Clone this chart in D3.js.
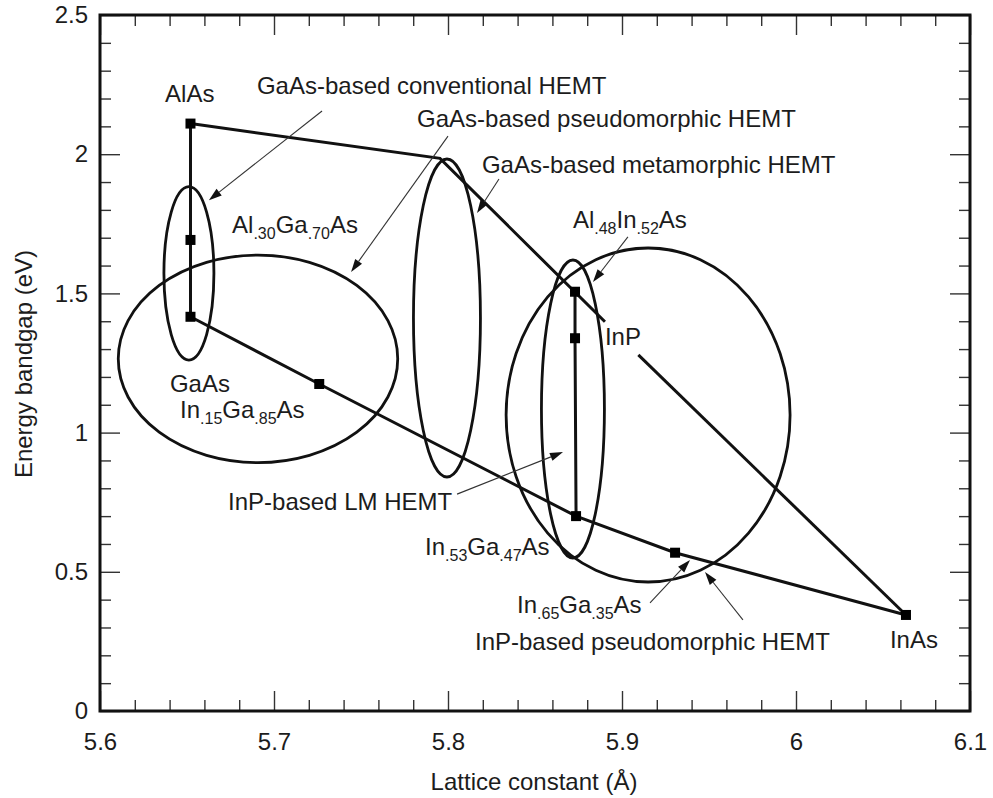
<!DOCTYPE html>
<html><head><meta charset="utf-8">
<script src="https://cdn.jsdelivr.net/npm/d3@7/dist/d3.min.js"></script>
<style>
body{margin:0;background:#fff}
svg{display:block}
text{font-family:"Liberation Sans",Arial,Helvetica,sans-serif;fill:#1c1c1c}
</style>
</head><body>
<svg id="chart" width="993" height="798"></svg>
<script>
// ---------- data ----------
const xTicks = [5.6, 5.7, 5.8, 5.9, 6.0, 6.1];
const xTickLabels = ["5.6", "5.7", "5.8", "5.9", "6", "6.1"];
const yTicks = [0, 0.5, 1, 1.5, 2, 2.5];
const yTickLabels = ["0", "0.5", "1", "1.5", "2", "2.5"];

const compounds    = ["AlAs", "Al.30Ga.70As", "GaAs", "In.15Ga.85As", "In.53Ga.47As", "In.65Ga.35As", "InAs", "Al.48In.52As", "InP"];
const latticeConst = [5.652, 5.652, 5.652, 5.726, 5.8736, 5.9305, 6.0632, 5.873, 5.873];
const bandgap      = [2.110, 1.692, 1.416, 1.1746, 0.700, 0.5686, 0.345, 1.506, 1.339];

const alGaAsLine = ["AlAs", "Al.30Ga.70As", "GaAs"];
const inGaAsLine = ["GaAs", "In.15Ga.85As", "In.53Ga.47As", "In.65Ga.35As", "InAs"];
const latticeMatchedLine = ["Al.48In.52As", "InP", "In.53Ga.47As"];

// AlAs-InAs curve (broken where the "InP" label sits)
const alInAsUpperX = [5.652, 5.7954, 5.8902];
const alInAsUpperY = [2.110, 1.985, 1.398];
const alInAsLowerX = [5.9094, 6.0632];
const alInAsLowerY = [1.279, 0.345];

// HEMT regions (ellipses): centre and half-axes in data units
const regionNames = ["GaAs conventional", "GaAs pseudomorphic", "GaAs metamorphic", "InP LM", "InP pseudomorphic"];
const regionCx = [5.6511, 5.6908, 5.7994, 5.8718, 5.915];
const regionCy = [1.572, 1.265, 1.4116, 1.0848, 1.0632];
const regionRx = [0.01437, 0.0803, 0.01925, 0.0181, 0.0816];
const regionRy = [0.3114, 0.3728, 0.5711, 0.5352, 0.5999];

// text labels (anchor in data units, left/baseline); _{..} = subscript
const labelTexts = ["AlAs", "GaAs-based conventional HEMT", "Al_{.30}Ga_{.70}As", "GaAs-based pseudomorphic HEMT",
  "GaAs-based metamorphic HEMT", "Al_{.48}In_{.52}As", "InP", "GaAs", "In_{.15}Ga_{.85}As", "InP-based LM HEMT",
  "In_{.53}Ga_{.47}As", "In_{.65}Ga_{.35}As", "InP-based pseudomorphic HEMT", "InAs"];
const labelX = [5.6374, 5.6902, 5.6759, 5.7822, 5.8195, 5.8718, 5.8902, 5.6402, 5.646, 5.6736, 5.7868, 5.8397, 5.8155, 6.054];
const labelY = [2.1875, 2.216, 1.717, 2.098, 1.932, 1.735, 1.315, 1.146, 1.052, 0.722, 0.560, 0.352, 0.219, 0.226];

// annotation arrows (from -> to, data units)
const arrowFromX = [5.7276, 5.8, 5.8293, 5.9034, 5.8052, 5.9161, 5.9695];
const arrowFromY = [2.155, 2.065, 1.911, 1.703, 0.779, 0.388, 0.327];
const arrowToX   = [5.6626, 5.7443, 5.8167, 5.8833, 5.8661, 5.9391, 5.9477];
const arrowToY   = [1.835, 1.577, 1.789, 1.541, 0.930, 0.542, 0.499];

// ---------- chart ----------
const svg = d3.select("#chart");
const L = 100, R = 970, T = 15, B = 711;
const x = d3.scaleLinear().domain([5.6, 6.1]).range([L, R]);
const y = d3.scaleLinear().domain([0, 2.5]).range([B, T]);

const tickColor = "#333";
const major = 20, minor = 11;
const xMinor = d3.range(5.6, 6.1001, 0.02).filter(v => Math.abs(v * 10 - Math.round(v * 10)) > 1e-6);
const yMinor = d3.range(0, 2.5001, 0.1).filter(v => Math.abs(v * 2 - Math.round(v * 2)) > 1e-6);

function styleAxis(g) {
  g.select(".domain").remove();
  g.selectAll(".tick line").attr("stroke", tickColor).attr("stroke-width", 1.4);
}
// bottom & top
svg.append("g").attr("transform", `translate(0,${B})`)
  .call(d3.axisBottom(x).tickValues(xTicks).tickSize(-major).tickFormat((d, i) => xTickLabels[i]).tickPadding(0))
  .call(styleAxis)
  .call(g => g.selectAll(".tick text").attr("y", 39).attr("dy", 0).attr("font-size", 24).attr("fill", "#1c1c1c")
    .attr("font-family", '"Liberation Sans",Arial,sans-serif'));
svg.append("g").attr("transform", `translate(0,${B})`)
  .call(d3.axisBottom(x).tickValues(xMinor).tickSize(-minor).tickFormat("")).call(styleAxis);
svg.append("g").attr("transform", `translate(0,${T})`)
  .call(d3.axisTop(x).tickValues(xTicks).tickSize(-major).tickFormat("")).call(styleAxis);
svg.append("g").attr("transform", `translate(0,${T})`)
  .call(d3.axisTop(x).tickValues(xMinor).tickSize(-minor).tickFormat("")).call(styleAxis);
// left & right
svg.append("g").attr("transform", `translate(${L},0)`)
  .call(d3.axisLeft(y).tickValues(yTicks).tickSize(-major).tickFormat((d, i) => yTickLabels[i]))
  .call(styleAxis)
  .call(g => g.selectAll(".tick text").attr("x", -12).attr("font-size", 24).attr("fill", "#1c1c1c")
    .attr("font-family", '"Liberation Sans",Arial,sans-serif'));
svg.append("g").attr("transform", `translate(${L},0)`)
  .call(d3.axisLeft(y).tickValues(yMinor).tickSize(-minor).tickFormat("")).call(styleAxis);
svg.append("g").attr("transform", `translate(${R},0)`)
  .call(d3.axisRight(y).tickValues(yTicks).tickSize(-major).tickFormat("")).call(styleAxis);
svg.append("g").attr("transform", `translate(${R},0)`)
  .call(d3.axisRight(y).tickValues(yMinor).tickSize(-minor).tickFormat("")).call(styleAxis);

// frame
svg.append("rect").attr("x", L).attr("y", T).attr("width", R - L).attr("height", B - T)
  .attr("fill", "none").attr("stroke", "#111").attr("stroke-width", 3);

// axis titles
svg.append("text").attr("x", (L + R) / 2 - 1).attr("y", 790).attr("text-anchor", "middle")
  .attr("font-size", 24).text("Lattice constant (Å)");
svg.append("text").attr("transform", "translate(32,364) rotate(-90)").attr("text-anchor", "middle")
  .attr("font-size", 24).text("Energy bandgap (eV)");

// ellipses
const ell = svg.append("g").attr("fill", "none").attr("stroke", "#111").attr("stroke-width", 2.8);
regionNames.forEach((n, i) => {
  ell.append("ellipse")
    .attr("cx", x(regionCx[i])).attr("cy", y(regionCy[i]))
    .attr("rx", x(regionCx[i] + regionRx[i]) - x(regionCx[i]))
    .attr("ry", y(regionCy[i]) - y(regionCy[i] + regionRy[i]));
});

// data lines
const idx = name => compounds.indexOf(name);
const line = d3.line().x(d => x(d[0])).y(d => y(d[1]));
const lines = svg.append("g").attr("fill", "none").attr("stroke", "#111").attr("stroke-width", 3);
[alGaAsLine, inGaAsLine, latticeMatchedLine].forEach(list => {
  lines.append("path").attr("d", line(list.map(n => [latticeConst[idx(n)], bandgap[idx(n)]])));
});
lines.append("path").attr("d", line(alInAsUpperX.map((v, i) => [v, alInAsUpperY[i]])));
lines.append("path").attr("d", line(alInAsLowerX.map((v, i) => [v, alInAsLowerY[i]])));

// markers
svg.append("g").selectAll("rect").data(compounds).join("rect")
  .attr("x", (d, i) => x(latticeConst[i]) - 5).attr("y", (d, i) => y(bandgap[i]) - 5)
  .attr("width", 10).attr("height", 10).attr("fill", "#000");

// arrows
const arr = svg.append("g");
arrowFromX.forEach((v, i) => {
  const x0 = x(v), y0 = y(arrowFromY[i]), x1 = x(arrowToX[i]), y1 = y(arrowToY[i]);
  const dx = x1 - x0, dy = y1 - y0, len = Math.hypot(dx, dy), ux = dx / len, uy = dy / len;
  const hl = 13, hw = 4.2;
  const bx = x1 - ux * hl, by = y1 - uy * hl;
  arr.append("line").attr("x1", x0).attr("y1", y0).attr("x2", bx).attr("y2", by)
    .attr("stroke", "#333").attr("stroke-width", 1.1);
  arr.append("path").attr("d", `M${x1},${y1}L${bx - uy * hw},${by + ux * hw}L${bx + uy * hw},${by - ux * hw}Z`)
    .attr("fill", "#111");
});

// labels
const lab = svg.append("g").attr("font-size", 24);
labelTexts.forEach((t, i) => {
  const te = lab.append("text").attr("x", x(labelX[i])).attr("y", y(labelY[i]));
  const parts = t.split(/(_\{[^}]*\})/).filter(s => s.length);
  let sub = false;
  parts.forEach(p => {
    if (p.startsWith("_{")) {
      te.append("tspan").attr("font-size", 16).attr("dy", 6).text(p.slice(2, -1));
      sub = true;
    } else {
      const ts = te.append("tspan").text(p);
      if (sub) { ts.attr("dy", -6); sub = false; }
    }
  });
});
</script>
</body></html>
